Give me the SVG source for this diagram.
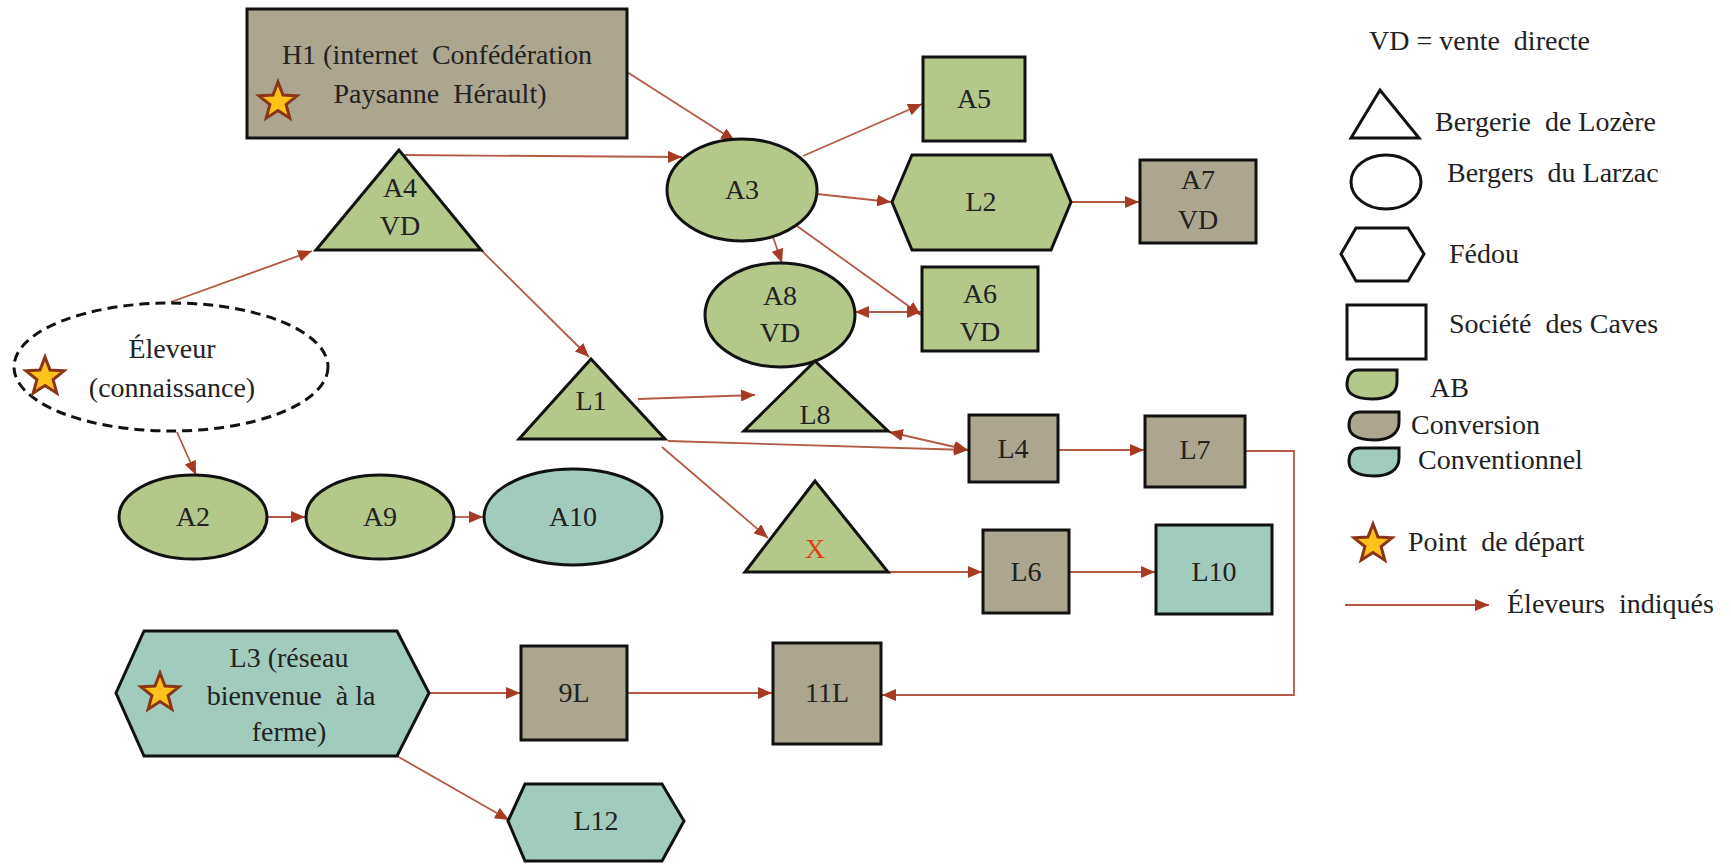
<svg xmlns="http://www.w3.org/2000/svg" width="1731" height="867" viewBox="0 0 1731 867">
<style>
text{font-family:"Liberation Serif","Times New Roman",serif;white-space:pre}
.t{font-size:28px;fill:#222;text-anchor:middle}
.l{font-size:28px;fill:#222}
.ab{fill:#b4c88a;stroke:#111;stroke-width:3}
.cv{fill:#aca690;stroke:#111;stroke-width:3}
.cn{fill:#a1cbbd;stroke:#111;stroke-width:3}
.wh{fill:#fff;stroke:#111;stroke-width:3}
.c{fill:none;stroke:#b35a44;stroke-width:1.8;marker-end:url(#ah)}
.star{fill:#ffc21a;stroke:#8a3418;stroke-width:3;stroke-linejoin:miter}
</style>
<defs>
<marker id="ah" markerUnits="userSpaceOnUse" markerWidth="14" markerHeight="12" viewBox="0 0 14 12" refX="14" refY="6" orient="auto-start-reverse">
<path d="M0,0 L14,6 L0,12 z" fill="#a63a22"/>
</marker>
<polygon id="star" points="0,-20 5,-6.9 19,-6.2 8.1,2.6 11.8,16.2 0,8.5 -11.8,16.2 -8.1,2.6 -19,-6.2 -5,-6.9"/>
</defs>
<rect width="1731" height="867" fill="#fff"/>

<g id="connectors">
<line class="c" x1="627" y1="72" x2="735" y2="141"/>
<line class="c" x1="399" y1="155" x2="682" y2="157"/>
<line class="c" x1="171" y1="302" x2="312" y2="251"/>
<line class="c" x1="481" y1="250" x2="589" y2="357"/>
<line class="c" x1="177" y1="432" x2="196" y2="475"/>
<line class="c" x1="267" y1="517" x2="305" y2="517"/>
<line class="c" x1="455" y1="517" x2="483" y2="517"/>
<line class="c" x1="803" y1="156" x2="922" y2="104"/>
<line class="c" x1="817" y1="194" x2="891" y2="202"/>
<line class="c" x1="1071" y1="202" x2="1139" y2="202"/>
<line class="c" x1="773" y1="237" x2="782" y2="263"/>
<line class="c" x1="797" y1="226" x2="921" y2="315"/>
<line class="c" x1="855" y1="312" x2="921" y2="312" style="marker-start:url(#ah)"/>
<line class="c" x1="638" y1="399" x2="755" y2="395"/>
<line class="c" x1="668" y1="441" x2="968" y2="450"/>
<line class="c" x1="889" y1="432" x2="968" y2="450" style="marker-start:url(#ah)"/>
<line class="c" x1="662" y1="447" x2="768" y2="538"/>
<line class="c" x1="1058" y1="450" x2="1144" y2="450"/>
<polyline class="c" points="1245,451 1294,451 1294,695 882,695"/>
<line class="c" x1="888" y1="572" x2="982" y2="572"/>
<line class="c" x1="1069" y1="572" x2="1155" y2="572"/>
<line class="c" x1="429" y1="693" x2="520" y2="693"/>
<line class="c" x1="627" y1="693" x2="772" y2="693"/>
<line class="c" x1="397" y1="756" x2="509" y2="820"/>
</g>

<g id="H1">
<rect class="cv" x="247" y="9" width="380" height="129"/>
<text class="t" x="437" y="64">H1 (internet  Confédération</text>
<text class="t" x="440" y="103">Paysanne  Hérault)</text>
<use href="#star" class="star" x="278" y="102"/>
</g>
<g id="A4">
<polygon class="ab" points="399,150 316,250 481,250"/>
<text class="t" x="400" y="197">A4</text>
<text class="t" x="400" y="235">VD</text>
</g>
<g id="A3">
<ellipse class="ab" cx="742" cy="190" rx="75" ry="51"/>
<text class="t" x="742" y="199">A3</text>
</g>
<g id="A5">
<rect class="ab" x="923" y="57" width="102" height="84"/>
<text class="t" x="974" y="108">A5</text>
</g>
<g id="L2">
<polygon class="ab" points="892,202 912,155 1051,155 1071,202 1051,250 912,250"/>
<text class="t" x="981" y="211">L2</text>
</g>
<g id="A7">
<rect class="cv" x="1140" y="160" width="116" height="83"/>
<text class="t" x="1198" y="189">A7</text>
<text class="t" x="1198" y="229">VD</text>
</g>
<g id="A8">
<ellipse class="ab" cx="780" cy="315" rx="75" ry="52"/>
<text class="t" x="780" y="305">A8</text>
<text class="t" x="780" y="342">VD</text>
</g>
<g id="A6">
<rect class="ab" x="922" y="267" width="116" height="84"/>
<text class="t" x="980" y="303">A6</text>
<text class="t" x="980" y="341">VD</text>
</g>
<g id="Eleveur">
<ellipse cx="171" cy="367" rx="157" ry="64" fill="#fff" stroke="#111" stroke-width="3" stroke-dasharray="10,6"/>
<text class="t" x="172" y="358">Éleveur</text>
<text class="t" x="172" y="397">(connaissance)</text>
<use href="#star" class="star" x="45" y="377"/>
</g>
<g id="A2">
<ellipse class="ab" cx="193" cy="517" rx="74" ry="42"/>
<text class="t" x="193" y="526">A2</text>
</g>
<g id="A9">
<ellipse class="ab" cx="380" cy="517" rx="74" ry="42"/>
<text class="t" x="380" y="526">A9</text>
</g>
<g id="A10">
<ellipse class="cn" cx="573" cy="517" rx="89" ry="48"/>
<text class="t" x="573" y="526">A10</text>
</g>
<g id="L1">
<polygon class="ab" points="591,359 519,439 665,439"/>
<text class="t" x="591" y="410">L1</text>
</g>
<g id="L8">
<polygon class="ab" points="815,361 744,431 888,431"/>
<text class="t" x="815" y="424">L8</text>
</g>
<g id="X">
<polygon class="ab" points="815,481 745,572 888,572"/>
<text class="t" x="815" y="558" style="fill:#e0401a">X</text>
</g>
<g id="L4">
<rect class="cv" x="969" y="415" width="89" height="67"/>
<text class="t" x="1013" y="458">L4</text>
</g>
<g id="L7">
<rect class="cv" x="1145" y="416" width="100" height="71"/>
<text class="t" x="1195" y="459">L7</text>
</g>
<g id="L6">
<rect class="cv" x="983" y="530" width="86" height="83"/>
<text class="t" x="1026" y="581">L6</text>
</g>
<g id="L10">
<rect class="cn" x="1156" y="525" width="116" height="89"/>
<text class="t" x="1214" y="581">L10</text>
</g>
<g id="L3">
<polygon class="cn" points="116,693 144,631 397,631 429,693 397,756 144,756"/>
<text class="t" x="289" y="667">L3 (réseau</text>
<text class="t" x="291" y="705">bienvenue  à la</text>
<text class="t" x="289" y="741">ferme)</text>
<use href="#star" class="star" x="160" y="693"/>
</g>
<g id="n9L">
<rect class="cv" x="521" y="646" width="106" height="94"/>
<text class="t" x="574" y="702">9L</text>
</g>
<g id="n11L">
<rect class="cv" x="773" y="643" width="108" height="101"/>
<text class="t" x="827" y="702">11L</text>
</g>
<g id="L12">
<polygon class="cn" points="508,821 525,784 662,784 684,821 662,861 525,861"/>
<text class="t" x="596" y="830">L12</text>
</g>

<g id="legend">
<text class="l" x="1369" y="50">VD = vente  directe</text>
<polygon class="wh" points="1380,90 1351,138 1419,138"/>
<text class="l" x="1435" y="131">Bergerie  de Lozère</text>
<ellipse class="wh" cx="1386" cy="182" rx="35" ry="27"/>
<text class="l" x="1447" y="182">Bergers  du Larzac</text>
<polygon class="wh" points="1341,254 1356,228 1408,228 1424,254 1408,281 1356,281"/>
<text class="l" x="1449" y="263">Fédou</text>
<rect class="wh" x="1347" y="305" width="79" height="54"/>
<text class="l" x="1449" y="333">Société  des Caves</text>
<path class="ab" d="M1358,370 L1397,370 L1397,382 C1397,394 1387,399 1372,399 C1353,399 1347,392 1347,385 C1347,376 1351,370 1358,370 Z"/>
<text class="l" x="1430" y="397">AB</text>
<path class="cv" d="M1360,412 L1399,412 L1399,422 C1399,434 1389,440 1374,440 C1355,440 1349,433 1349,426 C1349,417 1353,412 1360,412 Z"/>
<text class="l" x="1411" y="434">Conversion</text>
<path class="cn" d="M1360,448 L1399,448 L1399,458 C1399,470 1389,476 1374,476 C1355,476 1349,469 1349,462 C1349,453 1353,448 1360,448 Z"/>
<text class="l" x="1418" y="469">Conventionnel</text>
<use href="#star" class="star" x="1373" y="544"/>
<text class="l" x="1408" y="551">Point  de départ</text>
<line class="c" x1="1345" y1="605" x2="1489" y2="605"/>
<text class="l" x="1507" y="613">Éleveurs  indiqués</text>
</g>
</svg>
